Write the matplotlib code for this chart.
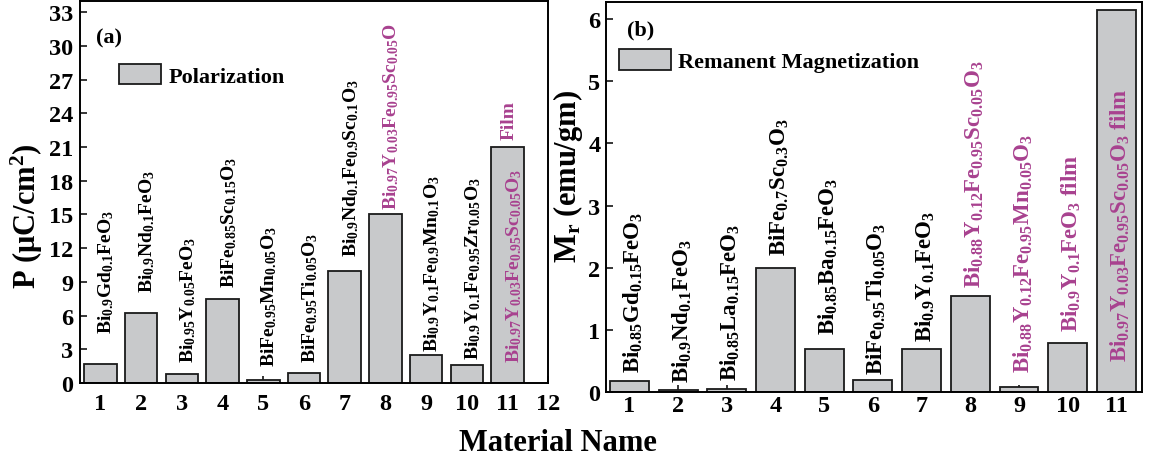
import matplotlib
matplotlib.use("Agg")
import matplotlib.pyplot as plt

plt.rcParams['font.family'] = ['Liberation Serif', 'DejaVu Serif']
plt.rcParams['font.weight'] = 'bold'
plt.rcParams['axes.labelweight'] = 'bold'
plt.rcParams['mathtext.fontset'] = 'custom'
plt.rcParams['mathtext.rm'] = 'Liberation Serif:bold'
plt.rcParams['mathtext.it'] = 'Liberation Serif:bold'
plt.rcParams['mathtext.bf'] = 'Liberation Serif:bold'
plt.rcParams['mathtext.default'] = 'rm'

# ---------------- data ----------------
materials_a = list(range(1, 12))
polarization = [1.7, 6.2, 0.8, 7.5, 0.3, 0.9, 10.0, 15.0, 2.5, 1.6, 21.0]
labels_a = [
    r"Bi$_{0.9}$Gd$_{0.1}$FeO$_3$",
    r"Bi$_{0.9}$Nd$_{0.1}$FeO$_3$",
    r"Bi$_{0.95}$Y$_{0.05}$FeO$_3$",
    r"BiFe$_{0.85}$Sc$_{0.15}$O$_3$",
    r"BiFe$_{0.95}$Mn$_{0.05}$O$_3$",
    r"BiFe$_{0.95}$Ti$_{0.05}$O$_3$",
    r"Bi$_{0.9}$Nd$_{0.1}$Fe$_{0.9}$Sc$_{0.1}$O$_3$",
    r"Bi$_{0.97}$Y$_{0.03}$Fe$_{0.95}$Sc$_{0.05}$O",
    r"Bi$_{0.9}$Y$_{0.1}$Fe$_{0.9}$Mn$_{0.1}$O$_3$",
    r"Bi$_{0.9}$Y$_{0.1}$Fe$_{0.95}$Zr$_{0.05}$O$_3$",
    r"Bi$_{0.97}$Y$_{0.03}$Fe$_{0.95}$Sc$_{0.05}$O$_3$",
]
label_y_a = [4.45, 8.1, 1.87, 8.54, 1.5, 1.87, 11.3, 15.5, 2.85, 2.14, 1.87]
highlight_a = [False] * 7 + [True, False, False, True]
film_label_a = "Film"
film_label_y_a = 21.7
xticks_a = list(range(1, 13))
yticks_a = list(range(0, 34, 3))

materials_b = list(range(1, 12))
magnetization = [0.18, 0.03, 0.05, 2.0, 0.7, 0.2, 0.7, 1.55, 0.08, 0.8, 6.15]
labels_b = [
    r"Bi$_{0.85}$Gd$_{0.15}$FeO$_3$",
    r"Bi$_{0.9}$Nd$_{0.1}$FeO$_3$",
    r"Bi$_{0.85}$La$_{0.15}$FeO$_3$",
    r"BiFe$_{0.7}$Sc$_{0.3}$O$_3$",
    r"Bi$_{0.85}$Ba$_{0.15}$FeO$_3$",
    r"BiFe$_{0.95}$Ti$_{0.05}$O$_3$",
    r"Bi$_{0.9}$Y$_{0.1}$FeO$_3$",
    r"Bi$_{0.88}$Y$_{0.12}$Fe$_{0.95}$Sc$_{0.05}$O$_3$",
    r"Bi$_{0.88}$Y$_{0.12}$Fe$_{0.95}$Mn$_{0.05}$O$_3$",
    r"Bi$_{0.9}$Y$_{0.1}$FeO$_3$ film",
    r"Bi$_{0.97}$Y$_{0.03}$Fe$_{0.95}$Sc$_{0.05}$O$_3$ film",
]
label_y_b = [0.33, 0.16, 0.19, 2.2, 0.94, 0.29, 0.83, 1.69, 0.32, 0.99, 0.51]
highlight_b = [False] * 7 + [True, True, True, True]
xticks_b = list(range(1, 12))
yticks_b = list(range(0, 7))

# ---------------- style ----------------
BAR_FC = '#c8c9cb'
BAR_EC = '#1a1a1a'
MAGENTA = '#a8418f'
TICK_FS = 17.5
LAB_FS = 22
ANN_FS_A = 14
ANN_FS_B = 16.5
LEG_FS = 16

fig = plt.figure(figsize=(11.5, 4.64), dpi=100)
ax1 = fig.add_axes([0.0696, 0.1724, 0.4072, 0.8233])
ax2 = fig.add_axes([0.527, 0.1524, 0.4658, 0.8418])

for ax in (ax1, ax2):
    for s in ax.spines.values():
        s.set_linewidth(1.4)
    ax.tick_params(direction='in', length=5, width=1.1, labelsize=TICK_FS)

# ---- panel (a)
ax1.bar(materials_a, polarization, width=0.8, color=BAR_FC, edgecolor=BAR_EC,
        linewidth=1.3, label='Polarization', zorder=2)
ax1.set_xlim(0.5, 12)
ax1.set_ylim(0, 34)
ax1.set_xticks(xticks_a)
ax1.set_yticks(yticks_a)
ax1.tick_params(axis='x', pad=7)
ax1.tick_params(axis='y', pad=5)
for x, y, t, h in zip(materials_a, label_y_a, labels_a, highlight_a):
    ax1.text(x + 0.15, y, t, rotation=90, ha='center', va='bottom',
             fontsize=ANN_FS_A, color=MAGENTA if h else 'black', zorder=3)
ax1.text(materials_a[-1] + 0.05, film_label_y_a, film_label_a, rotation=90,
         ha='center', va='bottom', fontsize=ANN_FS_A, color=MAGENTA, zorder=3)
ax1.set_ylabel(r"P ($\mu$C/cm$^2$)", fontsize=LAB_FS, fontweight='bold',
               va='center')
ax1.yaxis.set_label_coords(-0.113, 0.44)
ax1.text(0.034, 0.905, "(a)", transform=ax1.transAxes, fontsize=LEG_FS,
         ha='left', va='center')
ax1.legend(loc='upper left', bbox_to_anchor=(0.083, 0.835), frameon=False,
           fontsize=LEG_FS, handlelength=1.9, handleheight=1.0,
           handletextpad=0.35, borderpad=0, borderaxespad=0)

# ---- panel (b)
ax2.bar(materials_b, magnetization, width=0.8, color=BAR_FC, edgecolor=BAR_EC,
        linewidth=1.3, label='Remanent Magnetization', zorder=2)
ax2.set_xlim(0.52, 11.52)
ax2.set_ylim(0, 6.28)
ax2.set_xticks(xticks_b)
ax2.set_yticks(yticks_b)
ax2.tick_params(axis='x', pad=2)
ax2.tick_params(axis='y', pad=4)
for x, y, t, h in zip(materials_b, label_y_b, labels_b, highlight_b):
    ax2.text(x + 0.08, y, t, rotation=90, ha='center', va='bottom',
             fontsize=ANN_FS_B, color=MAGENTA if h else 'black', zorder=3)
ax2.set_ylabel(r"M$_r$ (emu/gm)", fontsize=LAB_FS, fontweight='bold',
               va='center')
ax2.yaxis.set_label_coords(-0.071, 0.556)
ax2.text(0.04, 0.93, "(b)", transform=ax2.transAxes, fontsize=LEG_FS,
         ha='left', va='center')
ax2.legend(loc='upper left', bbox_to_anchor=(0.025, 0.88), frameon=False,
           fontsize=LEG_FS, handlelength=2.3, handleheight=1.1,
           handletextpad=0.35, borderpad=0, borderaxespad=0)

fig.text(0.485, 0.027, "Material Name", fontsize=LAB_FS, ha='center',
         va='baseline')

fig.savefig("out.png", dpi=100)
